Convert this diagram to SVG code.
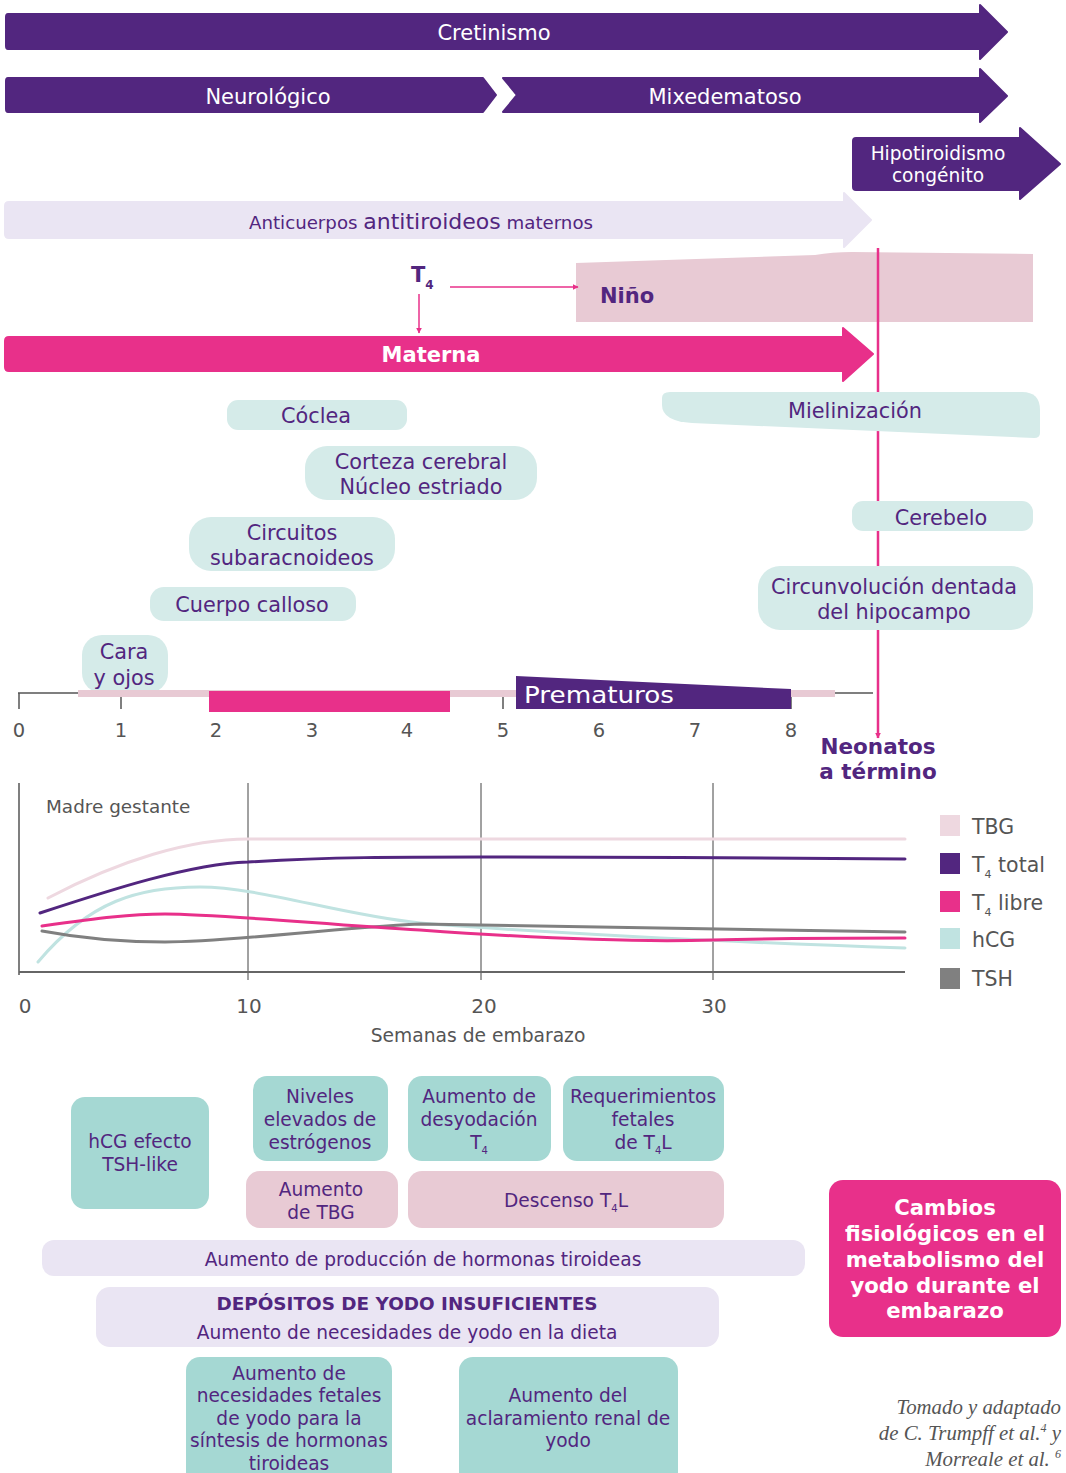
<svg xmlns="http://www.w3.org/2000/svg" width="1066" height="1473" viewBox="0 0 1066 1473">
<style>
text{font-family:"DejaVu Sans",Verdana,sans-serif}
.w{fill:#fff}
.p{fill:#52267F}
.g{fill:#555}
.c{text-anchor:middle}
.b{font-weight:bold}
.pur{fill:#52267F;stroke:#52267F;stroke-width:2;stroke-linejoin:round}
.lt{fill:#D5EBE9}
.tl{fill:#A5D8D3}
.pk{fill:#E8CAD4}
.lp{fill:#EAE5F3}
.lb{font-size:20.8px}
.bx{font-size:18.6px}
.curve{fill:none;stroke-width:3;stroke-linecap:round}
.grid{stroke:#444;stroke-width:1}
.cit{font-family:"Liberation Serif","Times New Roman",serif;font-style:italic;fill:#555;font-size:20.8px;text-anchor:end}
</style>
<defs>
<marker id="ah" viewBox="0 0 10 10" refX="9" refY="5" markerWidth="6" markerHeight="6" orient="auto" markerUnits="userSpaceOnUse">
<path d="M0,0 L10,5 L0,10 Z" fill="#E8308A"/>
</marker>
</defs>
<rect width="1066" height="1473" fill="#fff"/>

<g id="cretinismo">
<path class="pur" d="M8,14 L980,14 L980,5 L1007,32 L980,59 L980,49 L8,49 Q6,49 6,46 L6,17 Q6,14 8,14 Z"/>
<text class="w c" x="494" y="40" font-size="21">Cretinismo</text>
</g>
<g id="neurologico">
<path class="pur" d="M8,78 L483,78 L496,95 L483,112 L8,112 Q6,112 6,109 L6,81 Q6,78 8,78 Z"/>
<text class="w c" x="268" y="104" font-size="21">Neurológico</text>
</g>
<g id="mixedematoso">
<path class="pur" d="M503,78 L980,78 L980,69 L1007,96 L980,122 L980,112 L503,112 L517,95 Z"/>
<text class="w c" x="725" y="104" font-size="21">Mixedematoso</text>
</g>
<g id="hipotiroidismo">
<path class="pur" d="M856,138 L1020,138 L1020,128 L1060,164 L1020,199 L1020,190 L856,190 Q853,190 853,187 L853,141 Q853,138 856,138 Z"/>
<text class="w c" x="938" y="160" font-size="18.6">Hipotiroidismo</text>
<text class="w c" x="938" y="182" font-size="18.6">congénito</text>
</g>
<g id="anticuerpos">
<path d="M9,202 L844,202 L844,193 L871,220 L844,247 L844,238 L9,238 Q5,238 5,234 L5,206 Q5,202 9,202 Z" fill="#EAE5F3" stroke="#EAE5F3" stroke-width="2" stroke-linejoin="round"/>
<text class="p c" x="421" y="229" font-size="18.2">Anticuerpos <tspan font-size="22">antitiroideos</tspan> maternos</text>
</g>

<g id="nino">
<path class="pk" d="M576,263 L815,255 Q832,252 852,252 L1033,254 L1033,322 L576,322 Z"/>
<text class="p b" x="600" y="303" font-size="21">Niño</text>
</g>
<g id="t4">
<text class="p b" x="411" y="282" font-size="21">T<tspan font-size="12" dy="7">4</tspan></text>
</g>
<g id="materna">
<path d="M9,337 L843,337 L843,328 L873,354 L843,381 L843,371 L9,371 Q5,371 5,367 L5,341 Q5,337 9,337 Z" fill="#E8308A" stroke="#E8308A" stroke-width="2" stroke-linejoin="round"/>
<text class="w c b" x="431" y="362" font-size="21">Materna</text>
</g>

<g id="connectors">
<line x1="419" y1="294" x2="419" y2="333" stroke="#E8308A" stroke-width="1.5" marker-end="url(#ah)"/>
<line x1="450" y1="287" x2="578" y2="287" stroke="#E8308A" stroke-width="1.5" marker-end="url(#ah)"/>
<line x1="878" y1="248" x2="878" y2="738" stroke="#E8308A" stroke-width="2.5" marker-end="url(#ah)"/>
</g>

<g id="mielinizacion">
<path class="lt" d="M662,398 Q662,392 670,392 L1022,392 Q1040,392 1040,410 L1040,433 Q1040,438 1034,438 L692,423 Q662,421 662,405 Z"/>
<text class="p c lb" x="855" y="418">Mielinización</text>
</g>
<g id="coclea">
<rect class="lt" x="227" y="400" width="180" height="30" rx="11"/>
<text class="p c lb" x="316" y="423">Cóclea</text>
</g>
<g id="corteza">
<rect class="lt" x="305" y="446" width="232" height="54" rx="22"/>
<text class="p c lb" x="421" y="469">Corteza cerebral</text>
<text class="p c lb" x="421" y="494">Núcleo estriado</text>
</g>
<g id="circuitos">
<rect class="lt" x="189" y="517" width="206" height="54" rx="22"/>
<text class="p c lb" x="292" y="540">Circuitos</text>
<text class="p c lb" x="292" y="565">subaracnoideos</text>
</g>
<g id="cuerpo">
<rect class="lt" x="150" y="587" width="206" height="34" rx="14"/>
<text class="p c lb" x="252" y="612">Cuerpo calloso</text>
</g>
<g id="cara">
<rect class="lt" x="82" y="635" width="86" height="58" rx="20"/>
<text class="p c lb" x="124" y="659">Cara</text>
<text class="p c lb" x="124" y="685">y ojos</text>
</g>
<g id="cerebelo">
<rect class="lt" x="852" y="501" width="181" height="30" rx="11"/>
<text class="p c lb" x="941" y="525">Cerebelo</text>
</g>
<g id="circunvolucion">
<rect class="lt" x="758" y="566" width="275" height="64" rx="22"/>
<text class="p c lb" x="894" y="594">Circunvolución dentada</text>
<text class="p c lb" x="894" y="619">del hipocampo</text>
</g>

<g id="timeline">
<line x1="18" y1="693" x2="873" y2="693" stroke="#555" stroke-width="1.5"/>
<g stroke="#555" stroke-width="1.5">
<line x1="19" y1="693" x2="19" y2="709"/>
<line x1="121" y1="693" x2="121" y2="709"/>
<line x1="503" y1="693" x2="503" y2="709"/>
<line x1="599" y1="693" x2="599" y2="709"/>
<line x1="695" y1="693" x2="695" y2="709"/>
<line x1="791" y1="693" x2="791" y2="709"/>
</g>
<rect x="78" y="690" width="757" height="7" fill="#E8CAD4"/>
<rect x="209" y="691" width="241" height="21" fill="#E8308A"/>
<path d="M516,676 L791,689 L791,709 L516,709 Z" fill="#52267F"/>
<text class="w" x="524" y="703" font-size="23" textLength="150" lengthAdjust="spacingAndGlyphs">Prematuros</text>
<g class="g c" font-size="19.5">
<text x="19" y="737">0</text>
<text x="121" y="737">1</text>
<text x="216" y="737">2</text>
<text x="312" y="737">3</text>
<text x="407" y="737">4</text>
<text x="503" y="737">5</text>
<text x="599" y="737">6</text>
<text x="695" y="737">7</text>
<text x="791" y="737">8</text>
</g>
</g>
<g id="neonatos">
<text class="p c b" x="878" y="754" font-size="21.5">Neonatos</text>
<text class="p c b" x="878" y="779" font-size="21.5">a término</text>
</g>

<g id="chart">
<line x1="19" y1="783" x2="19" y2="975" stroke="#555" stroke-width="1.5"/>
<line class="grid" x1="248" y1="783" x2="248" y2="980"/>
<line class="grid" x1="481" y1="783" x2="481" y2="980"/>
<line class="grid" x1="713" y1="783" x2="713" y2="980"/>
<line x1="19" y1="972" x2="905" y2="972" stroke="#666" stroke-width="2"/>
<text class="g" x="46" y="813" font-size="18.4">Madre gestante</text>
<path class="curve" stroke="#EED8E0" d="M48,898 C120,860 190,839 248,839 L905,839"/>
<path class="curve" stroke="#C0E3E1" d="M38,962 C90,900 140,887 200,887 C260,887 340,915 420,923 C560,934 760,943 905,948"/>
<path class="curve" stroke="#808080" d="M42,931 C90,940 130,942 165,942 C230,942 330,928 420,924 C560,926 713,929 905,932"/>
<path class="curve" stroke="#E8308A" d="M42,926 C100,918 130,914 165,914 C220,914 330,925 420,930 C560,940 650,942 713,940 C780,938 850,938 905,938"/>
<path class="curve" stroke="#52267F" d="M40,913 C110,890 190,864 248,862 C330,857 400,857 481,857 C600,857 800,858 905,859"/>
<g class="g c" font-size="20">
<text x="25" y="1013">0</text>
<text x="249" y="1013">10</text>
<text x="484" y="1013">20</text>
<text x="714" y="1013">30</text>
</g>
<text class="g c" x="478" y="1042" font-size="18.7">Semanas de embarazo</text>
</g>

<g id="legend">
<rect x="940" y="815" width="20" height="21" fill="#EED8E0"/>
<rect x="940" y="853" width="20" height="21" fill="#52267F"/>
<rect x="940" y="891" width="20" height="21" fill="#E8308A"/>
<rect x="940" y="928" width="20" height="21" fill="#C0E3E1"/>
<rect x="940" y="968" width="20" height="21" fill="#808080"/>
<g class="g" font-size="20.5">
<text x="972" y="834">TBG</text>
<text x="972" y="872">T<tspan font-size="11" dy="6">4</tspan><tspan dy="-6"> total</tspan></text>
<text x="972" y="910">T<tspan font-size="11" dy="6">4</tspan><tspan dy="-6"> libre</tspan></text>
<text x="972" y="947">hCG</text>
<text x="972" y="986">TSH</text>
</g>
</g>

<g id="hcg-efecto">
<rect class="tl" x="71" y="1097" width="138" height="112" rx="14"/>
<text class="p c bx" x="140" y="1148">hCG efecto</text>
<text class="p c bx" x="140" y="1171">TSH-like</text>
</g>
<g id="niveles">
<rect class="tl" x="253" y="1076" width="135" height="85" rx="14"/>
<text class="p c bx" x="320" y="1103">Niveles</text>
<text class="p c bx" x="320" y="1126">elevados de</text>
<text class="p c bx" x="320" y="1149">estrógenos</text>
</g>
<g id="desyodacion">
<rect class="tl" x="408" y="1076" width="143" height="85" rx="14"/>
<text class="p c bx" x="479" y="1103">Aumento de</text>
<text class="p c bx" x="479" y="1126">desyodación</text>
<text class="p c bx" x="479" y="1149">T<tspan font-size="10" dy="5">4</tspan></text>
</g>
<g id="requerimientos">
<rect class="tl" x="563" y="1076" width="161" height="85" rx="14"/>
<text class="p c bx" x="643" y="1103">Requerimientos</text>
<text class="p c bx" x="643" y="1126">fetales</text>
<text class="p c bx" x="643" y="1149">de T<tspan font-size="10" dy="5">4</tspan><tspan dy="-5">L</tspan></text>
</g>
<g id="aumento-tbg">
<rect class="pk" x="246" y="1171" width="152" height="57" rx="14"/>
<text class="p c bx" x="321" y="1196">Aumento</text>
<text class="p c bx" x="321" y="1219">de TBG</text>
</g>
<g id="descenso">
<rect class="pk" x="408" y="1171" width="316" height="57" rx="14"/>
<text class="p c bx" x="566" y="1207">Descenso T<tspan font-size="10" dy="5">4</tspan><tspan dy="-5">L</tspan></text>
</g>
<g id="produccion">
<rect class="lp" x="42" y="1240" width="763" height="36" rx="12"/>
<text class="p c bx" x="423" y="1266">Aumento de producción de hormonas tiroideas</text>
</g>
<g id="depositos">
<rect class="lp" x="96" y="1287" width="623" height="60" rx="14"/>
<text class="p c b" x="407" y="1310" font-size="18.4">DEPÓSITOS DE YODO INSUFICIENTES</text>
<text class="p c bx" x="407" y="1339">Aumento de necesidades de yodo en la dieta</text>
</g>
<g id="fetales">
<rect class="tl" x="186" y="1357" width="206" height="130" rx="14"/>
<text class="p c bx" x="289" y="1380">Aumento de</text>
<text class="p c bx" x="289" y="1402">necesidades fetales</text>
<text class="p c bx" x="289" y="1425">de yodo para la</text>
<text class="p c bx" x="289" y="1447">síntesis de hormonas</text>
<text class="p c bx" x="289" y="1470">tiroideas</text>
</g>
<g id="aclaramiento">
<rect class="tl" x="459" y="1357" width="219" height="130" rx="14"/>
<text class="p c bx" x="568" y="1402">Aumento del</text>
<text class="p c bx" x="568" y="1425">aclaramiento renal de</text>
<text class="p c bx" x="568" y="1447">yodo</text>
</g>
<g id="cambios">
<rect x="829" y="1180" width="232" height="157" rx="14" fill="#E8308A"/>
<g class="w c b" font-size="21.2">
<text x="945" y="1215">Cambios</text>
<text x="945" y="1241">fisiológicos en el</text>
<text x="945" y="1267">metabolismo del</text>
<text x="945" y="1293">yodo durante el</text>
<text x="945" y="1318">embarazo</text>
</g>
</g>
<g id="cita">
<text class="cit" x="1061" y="1414">Tomado y adaptado</text>
<text class="cit" x="1061" y="1440">de C. Trumpff et al.<tspan font-size="12" dy="-8">4</tspan><tspan dy="8"> y</tspan></text>
<text class="cit" x="1061" y="1466">Morreale et al. <tspan font-size="12" dy="-8">6</tspan></text>
</g>
</svg>
